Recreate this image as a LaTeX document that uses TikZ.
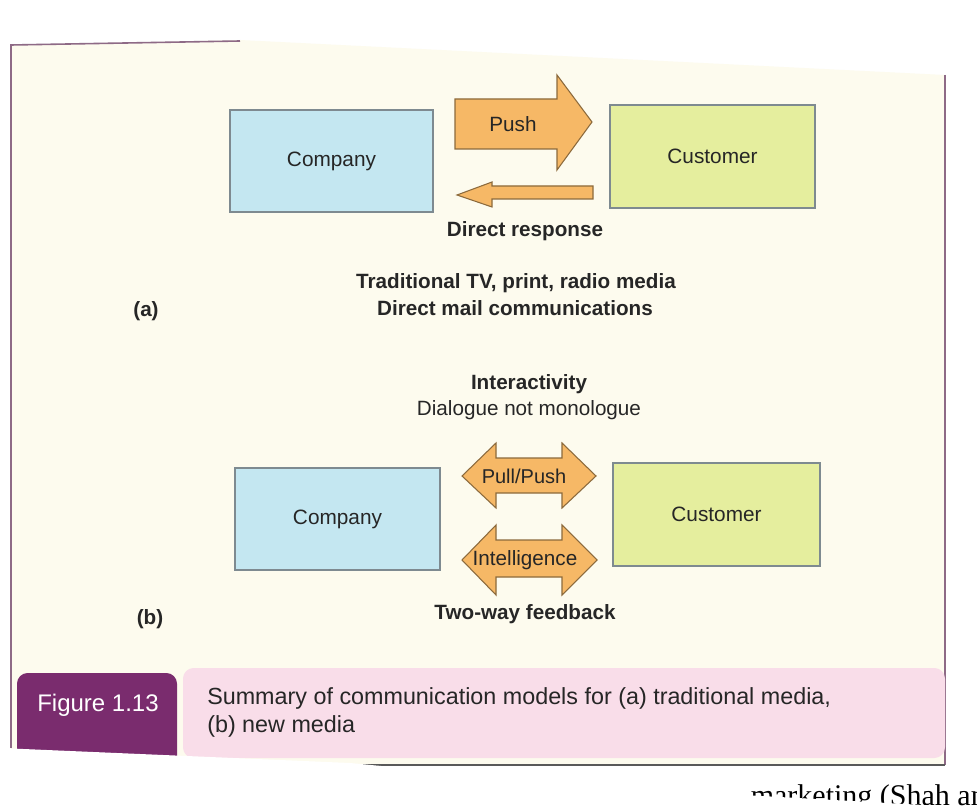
\documentclass[tikz,border=0pt]{standalone}
\usepackage{fontspec}
\setmainfont{Liberation Sans}
\newfontfamily\serifpage{Liberation Serif}
\definecolor{cream}{HTML}{FDFBEE}
\definecolor{boxblue}{HTML}{C4E7F1}
\definecolor{boxgreen}{HTML}{E5EE9E}
\definecolor{arroworange}{HTML}{F6B866}
\definecolor{arrowedge}{HTML}{8C6A3C}
\definecolor{boxedge}{HTML}{7E8A90}
\definecolor{figpurple}{HTML}{7A2C6E}
\definecolor{figpink}{HTML}{F9DDE9}
\definecolor{frameline}{HTML}{8E6A86}
\definecolor{inktext}{HTML}{262626}
\tikzset{
  entity/.style={draw=boxedge, line width=0.8pt},
  arrowshape/.style={draw=arrowedge, fill=arroworange, line width=0.8pt, line join=miter},
  lbl/.style={inner sep=0pt, text=inktext, font=\fontsize{15.5}{18}\selectfont\bfseries},
  plain/.style={inner sep=0pt, text=inktext, font=\fontsize{15.5}{18}\selectfont},
  boxtext/.style={inner sep=0pt, text=inktext, font=\fontsize{15.6}{18}\selectfont},
}
\begin{document}
\begin{tikzpicture}[x=0.75pt,y=-0.75pt]
\useasboundingbox (0,0) rectangle (977,812);
% page
\fill[white] (0,0) rectangle (977,812);
\fill[cream] (11,45) -- (240,40) -- (945,75) -- (945,765) -- (11,765) -- cycle;
\fill[white] (0,0) -- (240,38) -- (977,72) -- (977,0) -- cycle;
\draw[frameline, line width=1.2pt] (11,748) -- (11,45) -- (240,41);
\draw[frameline, line width=1.2pt] (945,75) -- (945,765);
% caption band
\fill[figpink, rounded corners=8pt] (183,668) rectangle (945,758);
\fill[figpurple, rounded corners=8pt] (17,673) rectangle (177,775);
\node[inner sep=0pt, text=white, font=\fontsize{18}{20}\selectfont] (fig) at (98,705) {Figure 1.13};
\node[inner sep=0pt, text=inktext, font=\fontsize{17.5}{21}\selectfont, anchor=north west, align=left] (cap) at (207,687)
  {Summary of communication models for (a) traditional media,\\(b) new media};
\draw[gray!70!black, line width=1pt] (330,765) -- (945,765);
\node[inner sep=0pt, text=black, font=\serifpage\fontsize{22.5}{26}\selectfont, anchor=base east] (foot) at (1001,805) {marketing (Shah and};
\fill[white] (0,748) -- (350,763) -- (600,787) -- (977,808) -- (977,812) -- (0,812) -- cycle;
\fill[white] (0,740) -- (11,740) -- (11,812) -- (0,812) -- cycle;
\draw[frameline, line width=1.2pt] (11,700) -- (11,748);

% ---- (a) traditional
\node[entity, fill=boxblue, minimum width=203*0.75pt, minimum height=102*0.75pt, inner sep=0pt] (compA) at (331.5,161) {};
\node[boxtext] at (compA) {Company};
\node[entity, fill=boxgreen, minimum width=205*0.75pt, minimum height=103*0.75pt, inner sep=0pt] (custA) at (712.5,156.5) {};
\node[boxtext] at (custA) {Customer};
\draw[arrowshape] (455,99) -- (557,99) -- (557,75) -- (592,122) -- (557,170) -- (557,149) -- (455,149) -- cycle;
\node[lbl, font=\fontsize{15.5}{18}\selectfont] (push) at (513,124) {Push};
\draw[arrowshape] (593,186) -- (492,186) -- (492,182) -- (457,195) -- (492,207) -- (492,199) -- (593,199) -- cycle;
\node[lbl] (dr) at (525,231) {Direct response};
\node[lbl] (trad1) at (516,283) {Traditional TV, print, radio media};
\node[lbl] (trad2) at (515,308) {Direct mail communications};
\node[lbl] (a) at (146,311) {(a)};

% ---- (b) new media
\node[lbl] (inter) at (529,384) {Interactivity};
\node[plain] (dial) at (529,410) {Dialogue not monologue};
\node[entity, fill=boxblue, minimum width=205*0.75pt, minimum height=102*0.75pt, inner sep=0pt] (compB) at (337.5,519) {};
\node[boxtext] at (compB) {Company};
\node[entity, fill=boxgreen, minimum width=207*0.75pt, minimum height=103*0.75pt, inner sep=0pt] (custB) at (716.5,514.5) {};
\node[boxtext] at (custB) {Customer};
\draw[arrowshape] (462,476) -- (496,443) -- (496,458) -- (562,458) -- (562,443) -- (596,476) -- (562,508) -- (562,493) -- (496,493) -- (496,508) -- cycle;
\node[plain, font=\fontsize{15}{18}\selectfont] (pp) at (524,476) {Pull/Push};
\draw[arrowshape] (462,560) -- (496,525) -- (496,540) -- (562,540) -- (562,525) -- (597,560) -- (562,595) -- (562,577) -- (496,577) -- (496,595) -- cycle;
\node[plain, font=\fontsize{15.5}{18}\selectfont] (intel) at (525,560) {Intelligence};
\node[lbl] (tw) at (525,614) {Two-way feedback};
\node[lbl] (b) at (150,619) {(b)};
\end{tikzpicture}
\end{document}
